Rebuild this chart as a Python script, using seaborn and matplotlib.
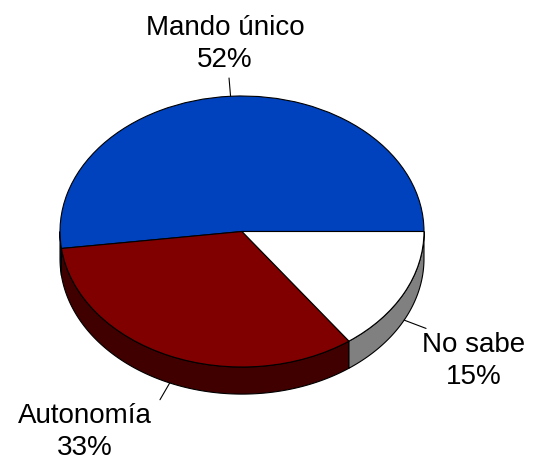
import numpy as np
import matplotlib
matplotlib.use("Agg")
import matplotlib.pyplot as plt
import seaborn as sns

categories = ["Mando único", "Autonomía", "No sabe"]
values = [52, 33, 15]
pct_labels = ["52%", "33%", "15%"]
top_colors = ["#0041BE", "#800000", "#FFFFFF"]
side_colors = ["#00215F", "#400000", "#808080"]

sns.set_theme(style="white")
plt.rcParams["font.family"] = ["Liberation Sans", "DejaVu Sans"]

fig = plt.figure(figsize=(5.33, 4.64), dpi=100)
ax = fig.add_axes([0, 0, 1, 1])

wedges, _ = ax.pie(values, colors=top_colors, startangle=0, counterclock=True,
                   radius=1.0, center=(0, 0),
                   wedgeprops=dict(edgecolor="black", linewidth=0.8))
for w in wedges:
    w.set_zorder(3)

depth = 0.2
# side walls for the visible front half (180..360 degrees)
for w, sc in zip(wedges, side_colors):
    t1, t2 = w.theta1, w.theta2
    a, b = max(t1, 180.0), min(t2, 360.0)
    if b <= a:
        continue
    t = np.radians(np.linspace(a, b, 200))
    xs = np.concatenate([np.cos(t), np.cos(t[::-1])])
    ys = np.concatenate([np.sin(t), np.sin(t[::-1]) - depth])
    ax.fill(xs, ys, facecolor=sc, edgecolor="black", linewidth=0.8, zorder=2)

# labels with leader lines
label_pos = [(-0.093, 1.39), (-0.863, -1.47), (1.275, -0.95)]
L = 0.135
for w, cat, pct, (lx, ly) in zip(wedges, categories, pct_labels, label_pos):
    m = np.radians((w.theta1 + w.theta2) / 2)
    x0, y0 = np.cos(m), np.sin(m)
    if y0 < 0:
        y0 -= depth
    x1, y1 = x0 + L * np.cos(m), y0 + L * np.sin(m)
    ax.plot([x0, x1], [y0, y1], color="black", linewidth=0.8, zorder=4)
    ax.text(lx, ly, f"{cat}\n{pct}", ha="center", va="center", fontsize=20,
            linespacing=1.3, color="black", zorder=5)

ax.set_aspect("auto")
ax.set_xlim(-1.3297, 1.599)
ax.set_ylim(-1.7085, 1.7159)
ax.axis("off")

fig.savefig("out.png", dpi=100)
